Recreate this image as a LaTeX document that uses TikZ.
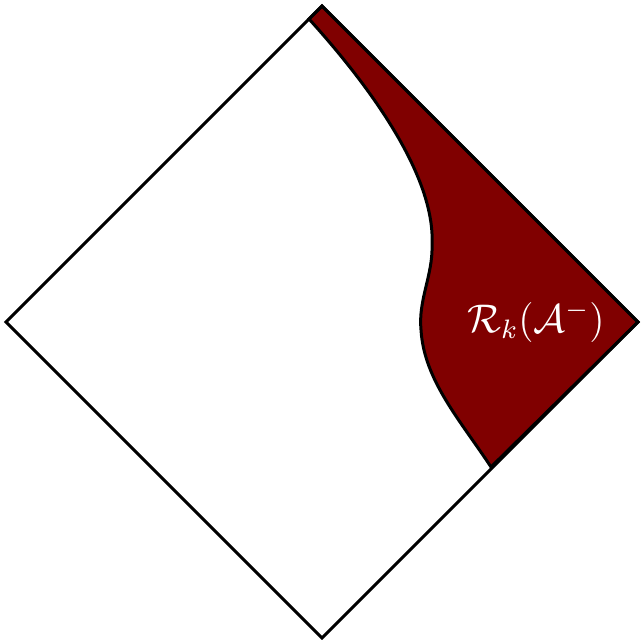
\documentclass[tikz,border=0pt]{standalone}
\begin{document}
\begin{tikzpicture}[x=0.3pt,y=-0.3pt,
  edge/.style={draw=black,line width=0.9pt},
  region/.style={fill=regionred,draw=black,line width=0.9pt},
  lbl/.style={text=white,font=\large}]
\definecolor{regionred}{RGB}{128,0,0}
\useasboundingbox (0,0) rectangle (641,640);
\coordinate (T) at (322,6);
\coordinate (L) at (6,322);
\coordinate (B) at (322,638);
\coordinate (R) at (638,322);
\coordinate (S) at (309,19);
\coordinate (E) at (491,467);
\coordinate (M1) at (432,245);
\coordinate (M2) at (421,330);
\path[region] (S) -- (T) -- (R) -- (E)
  .. controls (460,420) and (424,380) .. (M2)
  .. controls (418,300) and (433,275) .. (M1)
  .. controls (436,170) and (357,72) .. (S) -- cycle;
\draw[edge] (T) -- (R) -- (B) -- (L) -- cycle;
\node[lbl] (lab) at (536,322) {$\mathcal{R}_k(\mathcal{A}^-)$};
\end{tikzpicture}
\end{document}
